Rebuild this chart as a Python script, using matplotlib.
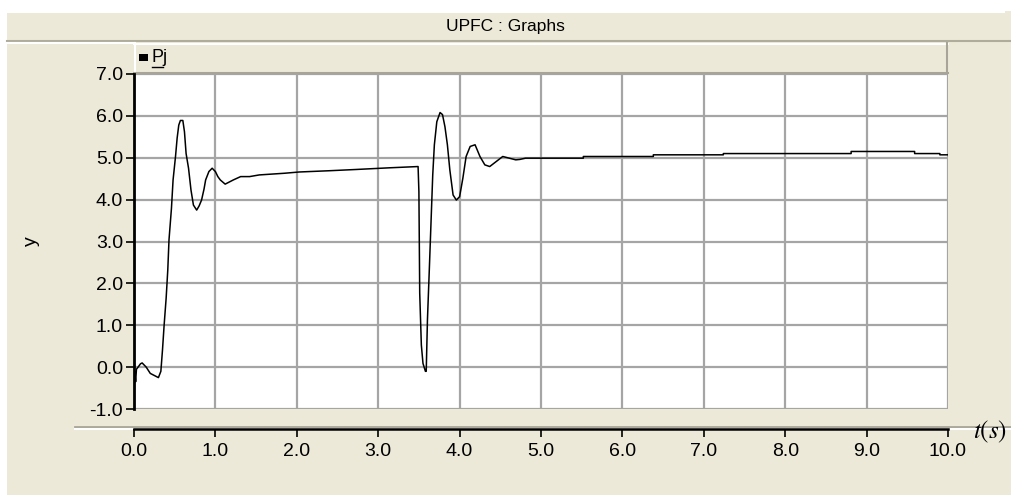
import numpy as np
import matplotlib.pyplot as plt
from matplotlib.patches import Rectangle
from matplotlib.lines import Line2D

# ---------- data ----------
t_pts = [0.00, 0.005, 0.01, 0.02, 0.03, 0.05, 0.08, 0.10, 0.15, 0.20, 0.25, 0.30, 0.33,
         0.35, 0.37, 0.395, 0.415, 0.43, 0.46, 0.48, 0.51, 0.53, 0.55, 0.57,
         0.60, 0.62, 0.64, 0.67, 0.70, 0.73, 0.77, 0.80, 0.83, 0.86, 0.88,
         0.92, 0.96, 1.00, 1.03, 1.06, 1.12, 1.22, 1.31, 1.42, 1.54, 1.85,
         2.03, 2.40, 2.73, 3.14, 3.49,
         3.50, 3.51, 3.53, 3.55, 3.58, 3.59, 3.605, 3.63, 3.65, 3.67, 3.69, 3.72,
         3.76, 3.79, 3.82, 3.85, 3.88, 3.92, 3.96, 4.00, 4.04, 4.08, 4.13,
         4.19, 4.25, 4.31, 4.37, 4.45, 4.53, 4.61, 4.69, 4.74, 4.81,
         5.52, 5.52, 6.38, 6.38, 7.24, 7.24, 8.81, 8.81, 9.59, 9.59,
         9.90, 9.90, 10.0]
y_pts = [-0.82, -0.35, -0.10, -0.35, -0.05, 0.00, 0.08, 0.10, 0.00, -0.15, -0.20, -0.25, -0.10,
         0.41, 1.00, 1.65, 2.32, 3.04, 3.79, 4.47, 5.03, 5.47, 5.78, 5.89,
         5.89, 5.62, 5.10, 4.75, 4.23, 3.87, 3.75, 3.85, 3.99, 4.25, 4.47,
         4.67, 4.75, 4.67, 4.55, 4.47, 4.37, 4.47, 4.55, 4.55, 4.59, 4.63,
         4.66, 4.69, 4.72, 4.76, 4.79,
         4.19, 1.77, 0.53, 0.09, -0.10, -0.10, 1.13, 2.44, 3.52, 4.59, 5.31, 5.86,
         6.08, 6.03, 5.74, 5.31, 4.71, 4.11, 3.99, 4.07, 4.51, 5.03, 5.27,
         5.31, 5.03, 4.83, 4.79, 4.91, 5.03, 4.99, 4.95, 4.96, 4.99,
         4.99, 5.03, 5.03, 5.07, 5.07, 5.10, 5.10, 5.15, 5.15, 5.10,
         5.10, 5.07, 5.07]
x_ticks = [0.0, 1.0, 2.0, 3.0, 4.0, 5.0, 6.0, 7.0, 8.0, 9.0, 10.0]
y_ticks = [-1.0, 0.0, 1.0, 2.0, 3.0, 4.0, 5.0, 6.0, 7.0]
series_name = 'Pj'
title = 'UPFC : Graphs'

# ---------- layout helpers (pixel -> figure coords) ----------
W, H = 1012, 495
BEIGE = '#ECE9D8'
GRID = '#A5A5A5'

def fx(px):
    return px / W

def fy(py):
    return 1 - py / H

plt.rcParams['font.family'] = ['Liberation Sans', 'DejaVu Sans']
plt.rcParams['mathtext.fontset'] = 'stix'

fig = plt.figure(figsize=(W / 100, H / 100), dpi=100, facecolor='white')

# panel background
fig.patches.append(Rectangle((fx(7), 0), fx(1005), fy(11), transform=fig.transFigure,
                             facecolor=BEIGE, edgecolor='none', zorder=-10))

def hline(y, x0, x1, color, lw=1.0, z=1):
    fig.lines.append(Line2D([fx(x0), fx(x1)], [fy(y), fy(y)], transform=fig.transFigure,
                            color=color, lw=lw, zorder=z))

def vline(x, y0, y1, color, lw=1.0, z=1):
    fig.lines.append(Line2D([fx(x), fx(x)], [fy(y0), fy(y1)], transform=fig.transFigure,
                            color=color, lw=lw, zorder=z))

# title bar
hline(11.5, 7, 1004, 'white', 1.5)
hline(40.5, 7, 1012, '#B0AC9C', 1.5)
hline(43, 7, 134, 'white', 1.5)
fig.text(fx(505), fy(27), title, ha='center', va='center', fontsize=12.5)

# legend strip
hline(43.5, 134, 948, 'white', 1.5)
vline(134.5, 43, 73, 'white', 1.5)
hline(72.5, 134, 948, '#A8A598', 1.5)
vline(947.5, 43, 73, '#A8A598', 1.5)
fig.patches.append(Rectangle((fx(139), fy(61)), fx(9), fy(54) - fy(61),
                             transform=fig.transFigure, facecolor='black',
                             edgecolor='none', zorder=2))
fig.text(fx(152), fy(58), series_name, ha='left', va='center', fontsize=13)
hline(67, 152, 163, 'black', 1.0)

# ---------- main plot ----------
ax = fig.add_axes([fx(134), fy(409), fx(814), fy(74) - fy(409)])
ax.set_zorder(5)
ax.set_facecolor('white')
ax.plot(t_pts, y_pts, color='black', lw=1.1, zorder=3)
ax.set_xlim(0, 10)
ax.set_ylim(-1, 7)
ax.set_xticks(x_ticks)
ax.set_yticks(y_ticks)
ax.set_yticklabels([f'{v:.1f}' for v in y_ticks], fontsize=14)
ax.grid(True, color=GRID, lw=1.6)
ax.tick_params(axis='x', bottom=False, labelbottom=False)
ax.tick_params(axis='y', direction='out', length=6, width=1.2, color='black', pad=2)
for s in ['top', 'right', 'bottom']:
    ax.spines[s].set_visible(False)
ax.spines['left'].set_linewidth(2.0)
ax.spines['left'].set_color('black')
ax.set_ylabel('y', fontsize=14, labelpad=0)
ax.yaxis.set_label_coords((40 - 134) / 814, 0.5)

# separate x axis strip
hline(426.5, 75, 1012, '#A8A598', 2.0)
hline(428.5, 75, 1012, 'white', 1.5)
axx = fig.add_axes([fx(134), fy(429), fx(814), 0.0001])
axx.set_zorder(6)
axx.patch.set_alpha(0)
axx.set_xlim(0, 10)
axx.set_xticks(x_ticks)
axx.set_xticklabels([f'{v:.1f}' for v in x_ticks], fontsize=14)
axx.set_yticks([])
for s in ['top', 'right', 'left']:
    axx.spines[s].set_visible(False)
axx.spines['bottom'].set_linewidth(1.8)
axx.tick_params(axis='x', direction='out', length=6, width=1.2, pad=4)

fig.text(fx(990), fy(432), r'$t(s)$', ha='center', va='center', fontsize=18)

fig.savefig('out.png', dpi=100, facecolor=fig.get_facecolor())
